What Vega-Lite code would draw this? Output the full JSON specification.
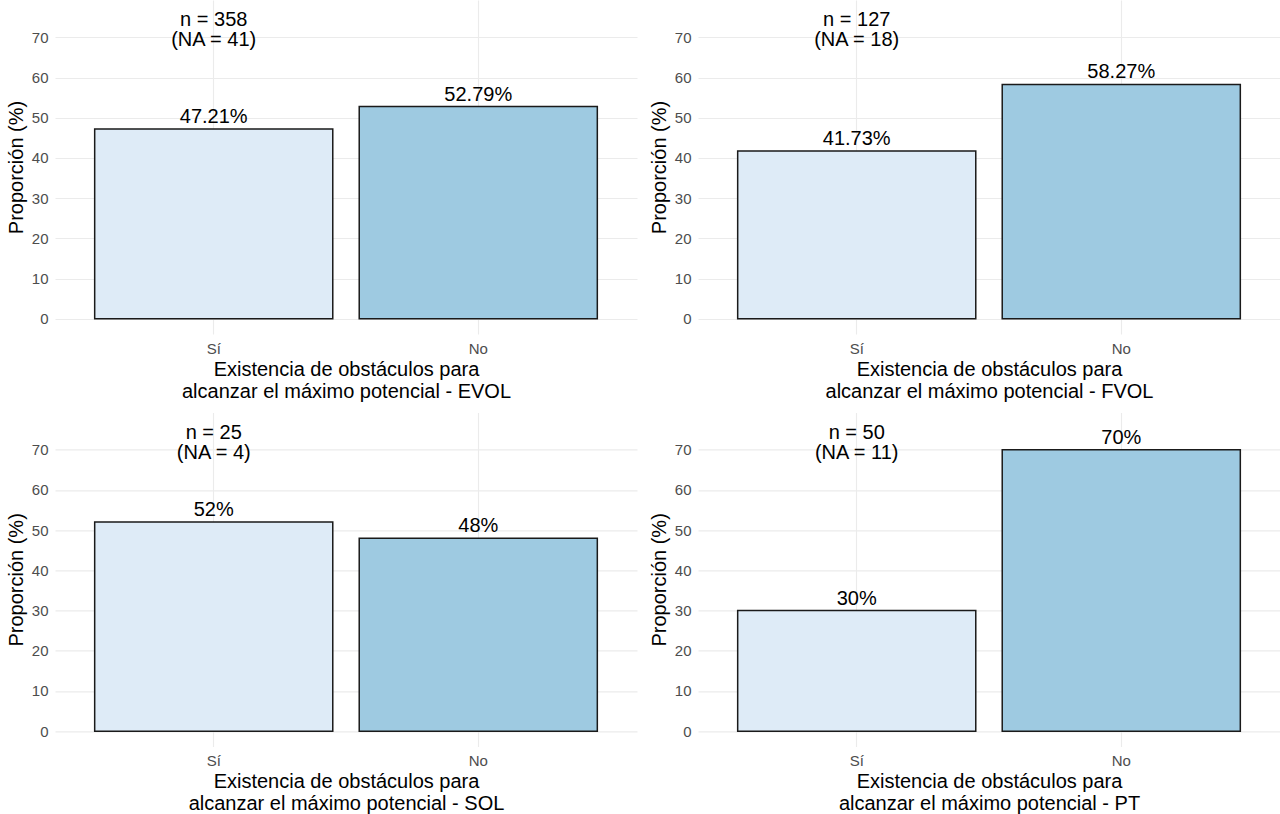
{
  "$schema": "https://vega.github.io/schema/vega-lite/v6.json",
  "padding": {"left": 6, "top": 0, "right": 0, "bottom": 0},
  "background": "white",
  "datasets": {
    "bars": [
      {"panel": "EVOL", "cat": "Sí", "value": 47.21, "label": "47.21%"},
      {"panel": "EVOL", "cat": "No", "value": 52.79, "label": "52.79%"},
      {"panel": "FVOL", "cat": "Sí", "value": 41.73, "label": "41.73%"},
      {"panel": "FVOL", "cat": "No", "value": 58.27, "label": "58.27%"},
      {"panel": "SOL", "cat": "Sí", "value": 52, "label": "52%"},
      {"panel": "SOL", "cat": "No", "value": 48, "label": "48%"},
      {"panel": "PT", "cat": "Sí", "value": 30, "label": "30%"},
      {"panel": "PT", "cat": "No", "value": 70, "label": "70%"}
    ],
    "notes": [
      {"panel": "EVOL", "cat": "Sí", "y": 74.2, "note": "n = 358\n(NA = 41)"},
      {"panel": "FVOL", "cat": "Sí", "y": 74.2, "note": "n = 127\n(NA = 18)"},
      {"panel": "SOL", "cat": "Sí", "y": 74.2, "note": "n = 25\n(NA = 4)"},
      {"panel": "PT", "cat": "Sí", "y": 74.2, "note": "n = 50\n(NA = 11)"}
    ]
  },
  "bounds": "flush",
  "spacing": {"row": 78.4, "column": 61},
  "columns": 2,
  "concat": [
    {
      "width": 582, "height": 334,
      "layer": [
        {"data": {"name": "bars"}, "transform": [{"filter": "datum.panel === 'EVOL'"}],
         "mark": {"type": "bar", "stroke": "#1a1a1a", "strokeWidth": 1.5},
         "encoding": {
           "x": {"field": "cat", "type": "nominal", "sort": ["Sí", "No"], "scale": {"domain": ["Sí", "No"], "paddingInner": 0.1, "paddingOuter": 0.15}, "axis": {"grid": true, "title": ["Existencia de obstáculos para", "alcanzar el máximo potencial - EVOL"]}},
           "y": {"field": "value", "type": "quantitative", "scale": {"domain": [-3.78, 79.28], "nice": false, "zero": false}, "axis": {"values": [0, 10, 20, 30, 40, 50, 60, 70], "title": "Proporción (%)"}},
           "y2": {"datum": 0},
           "color": {"field": "cat", "type": "nominal", "scale": {"domain": ["Sí", "No"], "range": ["#deebf7", "#9ecae1"]}, "legend": null}
         }},
        {"data": {"name": "bars"}, "transform": [{"filter": "datum.panel === 'EVOL'"}],
         "mark": {"type": "text", "baseline": "alphabetic", "dy": -6, "fontSize": 20, "color": "#000"},
         "encoding": {"x": {"field": "cat", "type": "nominal", "sort": ["Sí", "No"]}, "y": {"field": "value", "type": "quantitative"}, "text": {"field": "label"}}},
        {"data": {"name": "notes"}, "transform": [{"filter": "datum.panel === 'EVOL'"}],
         "mark": {"type": "text", "baseline": "middle", "lineBreak": "\n", "lineHeight": 20, "fontSize": 20, "color": "#000"},
         "encoding": {"x": {"field": "cat", "type": "nominal", "sort": ["Sí", "No"]}, "y": {"field": "y", "type": "quantitative"}, "text": {"field": "note"}}}
      ]
    },
    {
      "width": 582, "height": 334,
      "layer": [
        {"data": {"name": "bars"}, "transform": [{"filter": "datum.panel === 'FVOL'"}],
         "mark": {"type": "bar", "stroke": "#1a1a1a", "strokeWidth": 1.5},
         "encoding": {
           "x": {"field": "cat", "type": "nominal", "sort": ["Sí", "No"], "scale": {"domain": ["Sí", "No"], "paddingInner": 0.1, "paddingOuter": 0.15}, "axis": {"grid": true, "title": ["Existencia de obstáculos para", "alcanzar el máximo potencial - FVOL"]}},
           "y": {"field": "value", "type": "quantitative", "scale": {"domain": [-3.78, 79.28], "nice": false, "zero": false}, "axis": {"values": [0, 10, 20, 30, 40, 50, 60, 70], "title": "Proporción (%)"}},
           "y2": {"datum": 0},
           "color": {"field": "cat", "type": "nominal", "scale": {"domain": ["Sí", "No"], "range": ["#deebf7", "#9ecae1"]}, "legend": null}
         }},
        {"data": {"name": "bars"}, "transform": [{"filter": "datum.panel === 'FVOL'"}],
         "mark": {"type": "text", "baseline": "alphabetic", "dy": -6, "fontSize": 20, "color": "#000"},
         "encoding": {"x": {"field": "cat", "type": "nominal", "sort": ["Sí", "No"]}, "y": {"field": "value", "type": "quantitative"}, "text": {"field": "label"}}},
        {"data": {"name": "notes"}, "transform": [{"filter": "datum.panel === 'FVOL'"}],
         "mark": {"type": "text", "baseline": "middle", "lineBreak": "\n", "lineHeight": 20, "fontSize": 20, "color": "#000"},
         "encoding": {"x": {"field": "cat", "type": "nominal", "sort": ["Sí", "No"]}, "y": {"field": "y", "type": "quantitative"}, "text": {"field": "note"}}}
      ]
    },
    {
      "width": 582, "height": 334,
      "layer": [
        {"data": {"name": "bars"}, "transform": [{"filter": "datum.panel === 'SOL'"}],
         "mark": {"type": "bar", "stroke": "#1a1a1a", "strokeWidth": 1.5},
         "encoding": {
           "x": {"field": "cat", "type": "nominal", "sort": ["Sí", "No"], "scale": {"domain": ["Sí", "No"], "paddingInner": 0.1, "paddingOuter": 0.15}, "axis": {"grid": true, "title": ["Existencia de obstáculos para", "alcanzar el máximo potencial - SOL"]}},
           "y": {"field": "value", "type": "quantitative", "scale": {"domain": [-3.78, 79.28], "nice": false, "zero": false}, "axis": {"values": [0, 10, 20, 30, 40, 50, 60, 70], "title": "Proporción (%)"}},
           "y2": {"datum": 0},
           "color": {"field": "cat", "type": "nominal", "scale": {"domain": ["Sí", "No"], "range": ["#deebf7", "#9ecae1"]}, "legend": null}
         }},
        {"data": {"name": "bars"}, "transform": [{"filter": "datum.panel === 'SOL'"}],
         "mark": {"type": "text", "baseline": "alphabetic", "dy": -6, "fontSize": 20, "color": "#000"},
         "encoding": {"x": {"field": "cat", "type": "nominal", "sort": ["Sí", "No"]}, "y": {"field": "value", "type": "quantitative"}, "text": {"field": "label"}}},
        {"data": {"name": "notes"}, "transform": [{"filter": "datum.panel === 'SOL'"}],
         "mark": {"type": "text", "baseline": "middle", "lineBreak": "\n", "lineHeight": 20, "fontSize": 20, "color": "#000"},
         "encoding": {"x": {"field": "cat", "type": "nominal", "sort": ["Sí", "No"]}, "y": {"field": "y", "type": "quantitative"}, "text": {"field": "note"}}}
      ]
    },
    {
      "width": 582, "height": 334,
      "layer": [
        {"data": {"name": "bars"}, "transform": [{"filter": "datum.panel === 'PT'"}],
         "mark": {"type": "bar", "stroke": "#1a1a1a", "strokeWidth": 1.5},
         "encoding": {
           "x": {"field": "cat", "type": "nominal", "sort": ["Sí", "No"], "scale": {"domain": ["Sí", "No"], "paddingInner": 0.1, "paddingOuter": 0.15}, "axis": {"grid": true, "title": ["Existencia de obstáculos para", "alcanzar el máximo potencial - PT"]}},
           "y": {"field": "value", "type": "quantitative", "scale": {"domain": [-3.78, 79.28], "nice": false, "zero": false}, "axis": {"values": [0, 10, 20, 30, 40, 50, 60, 70], "title": "Proporción (%)"}},
           "y2": {"datum": 0},
           "color": {"field": "cat", "type": "nominal", "scale": {"domain": ["Sí", "No"], "range": ["#deebf7", "#9ecae1"]}, "legend": null}
         }},
        {"data": {"name": "bars"}, "transform": [{"filter": "datum.panel === 'PT'"}],
         "mark": {"type": "text", "baseline": "alphabetic", "dy": -6, "fontSize": 20, "color": "#000"},
         "encoding": {"x": {"field": "cat", "type": "nominal", "sort": ["Sí", "No"]}, "y": {"field": "value", "type": "quantitative"}, "text": {"field": "label"}}},
        {"data": {"name": "notes"}, "transform": [{"filter": "datum.panel === 'PT'"}],
         "mark": {"type": "text", "baseline": "middle", "lineBreak": "\n", "lineHeight": 20, "fontSize": 20, "color": "#000"},
         "encoding": {"x": {"field": "cat", "type": "nominal", "sort": ["Sí", "No"]}, "y": {"field": "y", "type": "quantitative"}, "text": {"field": "note"}}}
      ]
    }
  ],
  "config": {
    "view": {"stroke": null},
    "font": "Liberation Sans",
    "axis": {
      "domain": false,
      "ticks": false,
      "gridColor": "#ebebeb",
      "gridWidth": 1.1,
      "labelColor": "#4d4d4d",
      "labelFontSize": 15,
      "labelPadding": 7,
      "titleFontSize": 20,
      "titleFontWeight": "normal",
      "titleColor": "#000000"
    },
    "axisX": {"bandPosition": 0.5, "labelAngle": 0, "titlePadding": 3, "titleLineHeight": 22},
    "axisY": {"titlePadding": 5}
  }
}
